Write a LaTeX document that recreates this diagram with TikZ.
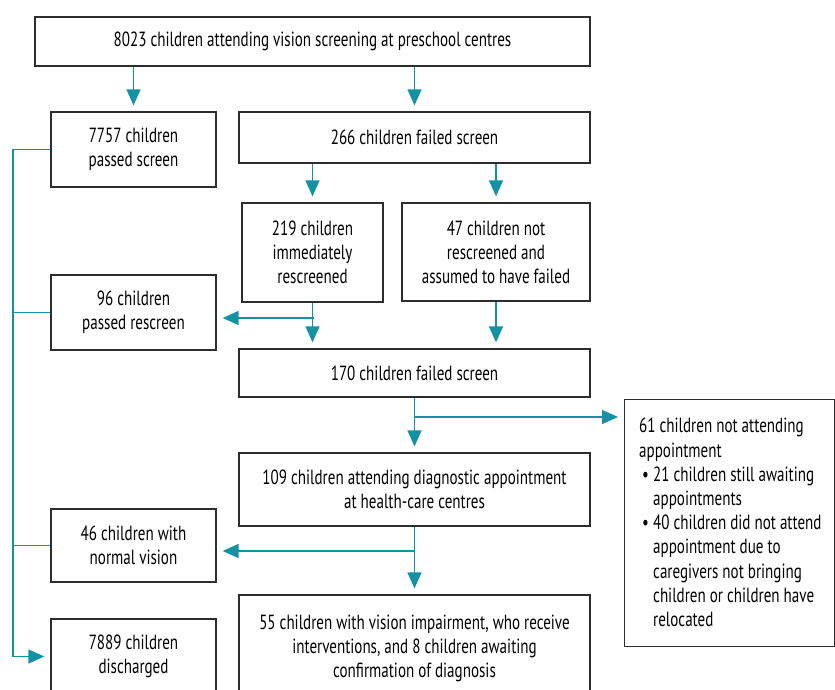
\documentclass[tikz,border=0pt]{standalone}
\usepackage{fontspec}
\setmainfont{PT Sans}[FakeStretch=0.735]
\usetikzlibrary{arrows.meta}
\definecolor{tealc}{RGB}{18,146,163}
\definecolor{boxline}{RGB}{45,45,45}
\begin{document}
\begin{tikzpicture}[x=1pt,y=-1pt,
  rect/.style={draw=boxline,line width=1.3pt,align=center,inner sep=0pt,font=\fontsize{20.5}{24}\selectfont},
  plain/.style={align=left,inner sep=0pt,font=\fontsize{20.5}{24.2}\selectfont},
  conn/.style={draw=tealc,line width=1.4pt},
  arr/.style={conn,-{Triangle[length=16pt,width=14pt]},shorten >=6pt}]
\useasboundingbox (0,0) rectangle (835,689);
\clip (0,0) rectangle (835,689);
% nodes
\node[rect,minimum width=555pt,minimum height=49pt] (top) at (312.5,41.5)
  {8023 children attending vision screening at preschool centres};
\node[rect,minimum width=165pt,minimum height=75pt] (pass) at (133.5,149.5)
  {7757 children\\passed screen};
\node[rect,minimum width=351pt,minimum height=51pt] (fail) at (414.5,137.5)
  {266 children failed screen};
\node[rect,minimum width=141pt,minimum height=99pt] (imm) at (312.5,252.5)
  {219 children\\immediately\\rescreened};
\node[rect,minimum width=188pt,minimum height=98pt] (nre) at (496,252)
  {47 children not\\rescreened and\\assumed to have failed};
\node[rect,minimum width=165pt,minimum height=75pt] (prs) at (133.5,312.5)
  {96 children\\passed rescreen};
\node[rect,minimum width=351pt,minimum height=48pt] (f170) at (414.5,373)
  {170 children failed screen};
\node[rect,minimum width=351pt,minimum height=73pt] (diag) at (414.5,489.5)
  {109 children attending diagnostic appointment\\at health-care centres};
\node[rect,minimum width=210pt,minimum height=247pt,anchor=north west] (na) at (624,399) {};
\node[plain,anchor=north west] (natext) at ([shift={(15pt,-19pt)}]na.north west)
  {61 children not attending\\appointment\\
   \hspace*{3pt}\makebox[11pt][l]{\textbullet}21 children still awaiting\\
   \hspace*{14pt}appointments\\
   \hspace*{3pt}\makebox[11pt][l]{\textbullet}40 children did not attend\\
   \hspace*{14pt}appointment due to\\
   \hspace*{14pt}caregivers not bringing\\
   \hspace*{14pt}children or children have\\
   \hspace*{14pt}relocated};
\node[rect,minimum width=165pt,minimum height=73pt] (norm) at (133.5,545.5)
  {46 children with\\normal vision};
\node[rect,minimum width=165pt,minimum height=75pt] (dis) at (133.5,656.5)
  {7889 children\\discharged};
\node[rect,minimum width=351pt,minimum height=106pt] (vi) at (414.5,648)
  {55 children with vision impairment, who receive\\interventions, and 8 children awaiting\\confirmation of diagnosis};
% connectors
\coordinate (L) at (13,0);
\coordinate (b1) at (314,318);
\coordinate (b2) at (415,417);
\coordinate (b3) at (415,551);
\draw[arr] (top.south -| pass.north) -- (pass.north);
\draw[arr] (top.south -| fail.north) -- (fail.north);
\draw[arr] (fail.south -| imm.north) -- (imm.north);
\draw[arr] (fail.south -| nre.north) -- (nre.north);
\draw[arr] (imm.south) -- (imm.south |- f170.north);
\draw[arr] (b1) -- (b1 -| prs.east);
\draw[arr] (nre.south) -- (nre.south |- f170.north);
\draw[arr] (f170.south) -- (diag.north);
\draw[arr] (b2) -- (b2 -| na.west);
\draw[arr] (diag.south) -- (vi.north);
\draw[arr] (b3) -- (b3 -| norm.east);
\draw[arr] (pass.west) -- (pass.west -| L) -- (L |- dis.west) -- (dis.west);
\draw[conn] (prs.west) -- (prs.west -| L);
\draw[conn] (norm.west) -- (norm.west -| L);
\end{tikzpicture}
\end{document}
